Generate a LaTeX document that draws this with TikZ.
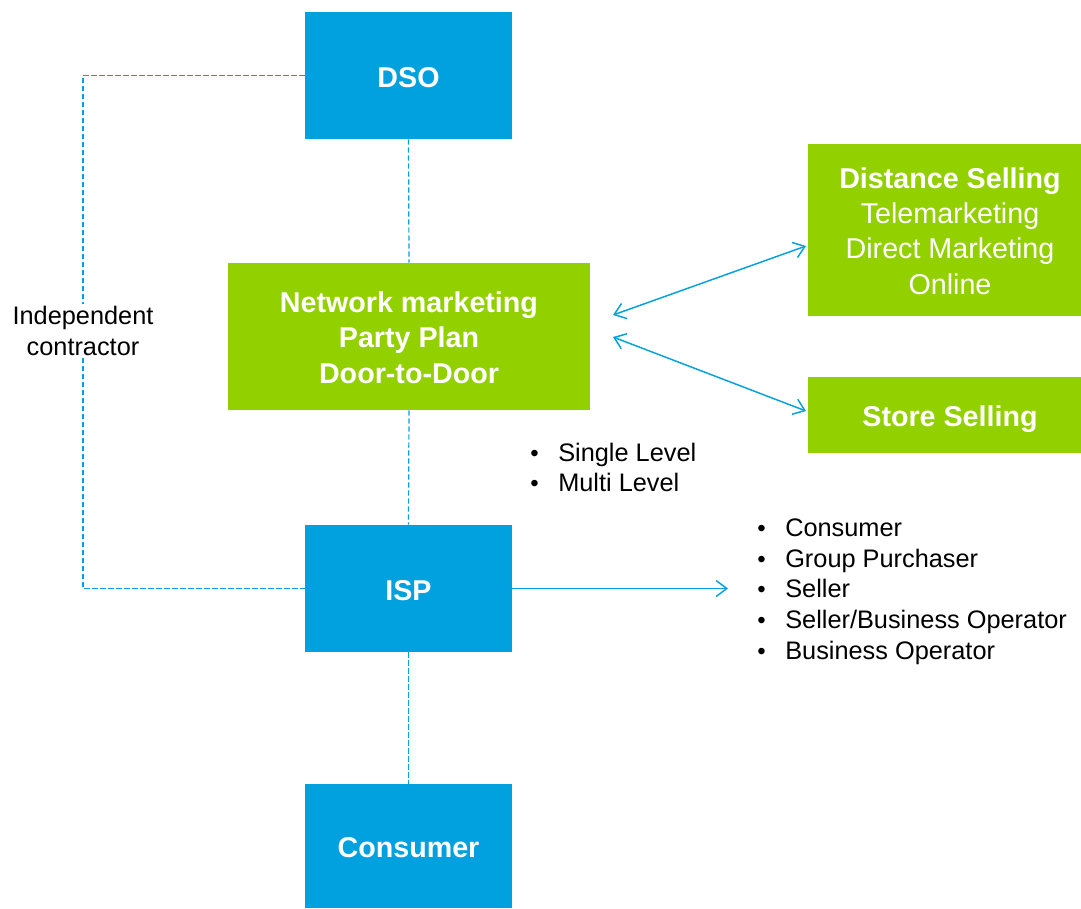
\documentclass[tikz,border=0pt]{standalone}
\usepackage{fontspec}
\setmainfont{Liberation Sans}
\usetikzlibrary{arrows.meta}
\definecolor{dsoblue}{RGB}{0,161,222}
\definecolor{dsogreen}{RGB}{146,208,0}
\tikzset{
  bluebox/.style={fill=dsoblue, text=white, font=\fontsize{21.5}{26.6}\selectfont\bfseries, minimum width=155.25pt, align=center, inner sep=0pt, text height=17.8pt, text depth=0pt},
  greenbox/.style={fill=dsogreen, text=white, font=\fontsize{21.5}{26.6}\selectfont, align=center, inner sep=0pt},
  dashlink/.style={draw=dsoblue, line width=0.9pt, dash pattern=on 4pt off 2pt},
  bluearrow/.style={draw=dsoblue, line width=1.1pt, {Straight Barb[length=8pt,width=12pt]}-{Straight Barb[length=8pt,width=12pt]}},
  bluearrowr/.style={draw=dsoblue, line width=1.1pt, -{Straight Barb[length=8pt,width=12pt]}},
  listtext/.style={font=\fontsize{19}{23}\selectfont, align=left, inner sep=0pt}
}
\newcommand{\bul}{\makebox[21pt][l]{\fontsize{18}{18}\selectfont\textbullet}}
\begin{document}
\begin{tikzpicture}[x=0.75pt,y=0.75pt,yscale=-1,xscale=1]
        \useasboundingbox (0,0) rectangle (1081,908);
        % Boxes
        \node [bluebox, minimum height=95.25pt] (dso) at (408.5,75.5) {DSO};
        \node [greenbox, font=\fontsize{21.5}{26.6}\selectfont\bfseries, minimum width=271.5pt, minimum height=110.25pt] (net) at (409,336.5) {\rule{0pt}{17pt}Network marketing\\Party Plan\\Door-to-Door};
        \node [greenbox, minimum width=213pt, minimum height=129pt] (dist) at (950,230) {\rule{0pt}{17pt}\textbf{Distance Selling}\\Telemarketing\\Direct Marketing\\Online};
        \node [greenbox, font=\fontsize{21.5}{26.6}\selectfont\bfseries, minimum width=213pt, minimum height=57pt, text height=17.8pt, text depth=0pt] (store) at (950,415) {Store Selling};
        \node [bluebox, minimum height=95.25pt] (isp) at (408.5,588.5) {ISP};
        \node [bluebox, minimum height=93pt] (cons) at (408.5,846) {Consumer};
        % Dashed links
        \draw [dashlink] (dso.south) -- (net.north);
        \draw [dashlink] (net.south) -- (isp.north);
        \draw [dashlink] (isp.south) -- (cons.north);
        \coordinate (topleft) at (83,75.5);
        \coordinate (botleft) at (83,588.5);
        \draw [dashlink] (dso.west) -- (topleft) -- (botleft) -- (isp.west);
        % Text Node
        \node [fill=white, font=\fontsize{19}{23.25}\selectfont, align=center, inner sep=2pt] (indep) at (83,331) {Independent\\contractor};
        % Arrows
        \coordinate (netup) at (613,315);
        \coordinate (netdown) at (613,337);
        \coordinate (distend) at (806,246);
        \coordinate (storeend) at (806,411);
        \coordinate (ispend) at (728,588.5);
        \draw [bluearrow] (netup) -- (distend);
        \draw [bluearrow] (netdown) -- (storeend);
        \draw [bluearrowr] (isp.east) -- (ispend);
        % Lists
        \node [listtext, anchor=west] (levels) at (530,467.5) {\bul Single Level\\\bul Multi Level};
        \node [listtext, anchor=west] (roles) at (757,591.5) {\bul Consumer\\\bul Group Purchaser\\\bul Seller\\\bul Seller/Business Operator\\\bul Business Operator};
\end{tikzpicture}
\end{document}
